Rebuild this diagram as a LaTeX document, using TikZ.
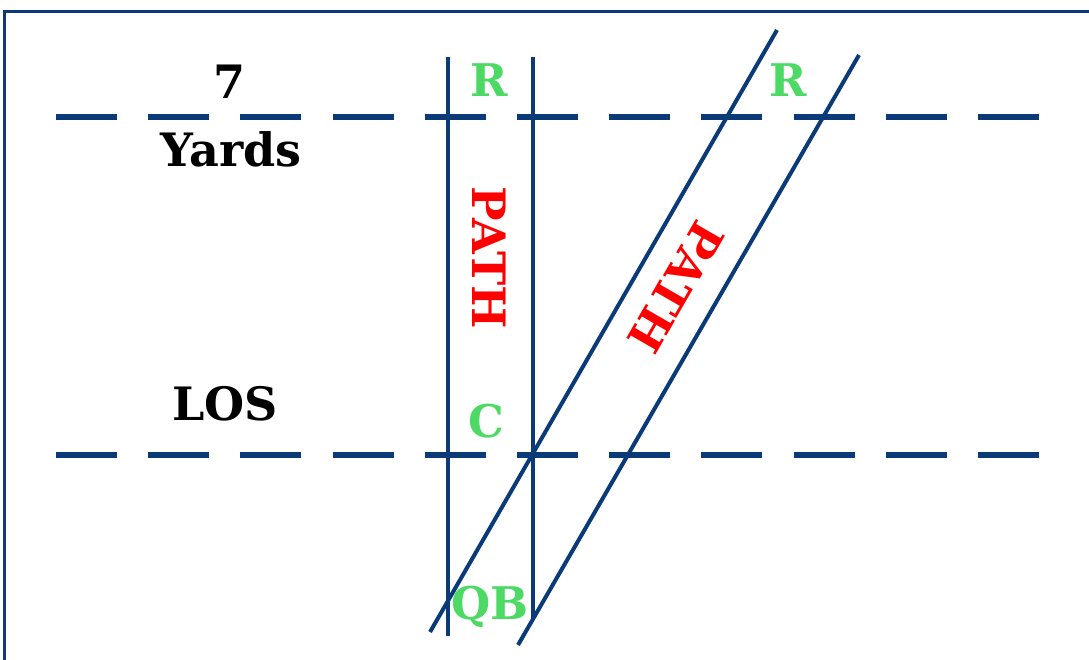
\documentclass[tikz,border=0pt]{standalone}
\usepackage{fontspec}
\setmainfont{DejaVu Serif}
\definecolor{navy}{HTML}{0A3A78}
\definecolor{pgreen}{HTML}{4CD964}
\definecolor{pred}{HTML}{FF0000}
\tikzset{
  field/.style={draw=navy, line width=4pt},
  yardline/.style={draw=navy, line width=6pt, dash pattern=on 61pt off 31.2pt},
  frame/.style={draw=navy, line width=3pt},
  label/.style={font=\fontsize{46}{46}\selectfont\bfseries, text=black, inner sep=0pt},
  player/.style={font=\fontsize{45}{45}\selectfont\bfseries, text=pgreen, inner sep=0pt},
  pathtext/.style={font=\fontsize{46}{46}\selectfont\bfseries, text=pred, inner sep=0pt}
}
\begin{document}
\begin{tikzpicture}[x=1pt,y=-1pt]
\useasboundingbox (0,0) rectangle (1089,659);
% frame
\coordinate (fTR) at (1095,11);
\coordinate (fTL) at (4,11);
\coordinate (fBL) at (4,665);
\draw[frame] (fTR) -- (fTL) -- (fBL);
% yard lines
\coordinate (y7L) at (56,117);
\coordinate (y7R) at (1040,117);
\coordinate (losL) at (56,455);
\coordinate (losR) at (1040,455);
\draw[yardline] (y7L) -- (y7R);
\draw[yardline] (losL) -- (losR);
% vertical path
\coordinate (v1t) at (448,57);
\coordinate (v1b) at (448,636);
\coordinate (v2t) at (533,57);
\coordinate (v2b) at (533,620);
\draw[field] (v1t) -- (v1b);
\draw[field] (v2t) -- (v2b);
% diagonal path
\coordinate (d1t) at (777,30);
\coordinate (d1b) at (430,632);
\coordinate (d2t) at (859,55);
\coordinate (d2b) at (518,645);
\draw[field] (d1t) -- (d1b);
\draw[field] (d2t) -- (d2b);
% labels
\node[label] (seven) at (230,82) {7};
\node[label] (yards) at (231,149) {Yards};
\node[label] (los) at (225,404) {LOS};
\node[player] (r1) at (489,80) {R};
\node[player] (r2) at (788,80) {R};
\node[player] (c) at (486,421) {C};
\node[player] (qb) at (490,607) {QB};
\node[pathtext, rotate=-90] (p1) at (489,258) {PATH};
\node[pathtext, rotate=-120] (p2) at (676,287) {PATH};
\end{tikzpicture}
\end{document}
